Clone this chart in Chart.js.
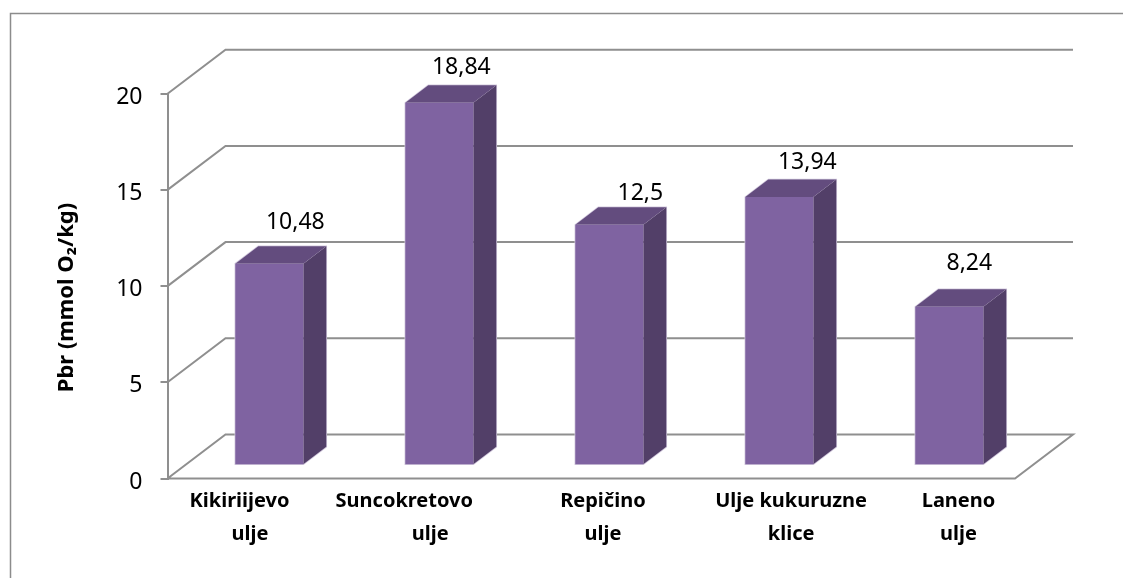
<!DOCTYPE html>
<html>
<head>
<meta charset="utf-8">
<style>
  html, body { margin: 0; padding: 0; background: #fff; }
  #wrap { width: 1123px; height: 578px; position: relative; overflow: hidden; }
</style>
<script src="https://cdn.jsdelivr.net/npm/chart.js@4"></script>
</head>
<body>
<div id="wrap"><canvas id="grafico" width="1123" height="578"></canvas></div>
<script>
const categories = [
  ['Kikiriijevo', 'ulje'],
  ['Suncokretovo', 'ulje'],
  ['Repičino', 'ulje'],
  ['Ulje kukuruzne', 'klice'],
  ['Laneno', 'ulje']
];
const pbr = [10.48, 18.84, 12.5, 13.94, 8.24];
const valueLabels = ['10,48', '18,84', '12,5', '13,94', '8,24'];
const yTicks = [0, 5, 10, 15, 20];
const yTitle = 'Pbr (mmol O₂/kg)';

// hand placed in the original, so each label has its own shift
const valueShift = [[26, -41], [22, -35], [31, -31], [28, -35], [20, -43]];
const categoryShift = [[-12, -2], [-17, 7], [10, 11], [28, 28], [25, 27]];

const GRID = '#8f8f8f';
const FONT = '"Noto Sans"';
const wallDepth = { x: 58, y: -44 };
const barDepth = { x: 23, y: -17.5 };
const barLift = { x: 16.8, y: -13.2 };
const floorInset = 2.5; // bars run slightly wider than the floor

// moves a centered label by padding it with spaces
function nudge(text, px) {
  const pad = ' '.repeat(Math.round(Math.abs(px) / 2.6));
  return px < 0 ? text + pad : pad + text;
}

function poly(ctx, pts, color) {
  ctx.beginPath();
  pts.forEach((p, i) => i ? ctx.lineTo(p[0], p[1]) : ctx.moveTo(p[0], p[1]));
  ctx.closePath();
  ctx.fillStyle = color;
  ctx.fill();
}

const cena3d = {
  id: 'cena3d',
  beforeDraw(chart) {
    const ctx = chart.ctx;
    ctx.save();
    ctx.strokeStyle = '#8c8c8c';
    ctx.lineWidth = 1.5;
    ctx.beginPath();
    ctx.moveTo(10.5, 578);
    ctx.lineTo(10.5, 13.5);
    ctx.lineTo(1123, 13.5);
    ctx.stroke();
    ctx.restore();
  },
  beforeDatasetsDraw(chart) {
    const { ctx, chartArea: area, scales } = chart;
    const front = area.right - floorInset;
    ctx.save();
    ctx.strokeStyle = GRID;
    ctx.lineWidth = 2;
    yTicks.forEach(t => {
      const y = scales.y.getPixelForValue(t);
      ctx.beginPath();
      ctx.moveTo(area.left, y);
      ctx.lineTo(area.left + wallDepth.x, y + wallDepth.y);
      ctx.lineTo(front + wallDepth.x, y + wallDepth.y);
      if (t === 0) {
        ctx.lineTo(front, y);
        ctx.lineTo(area.left, y);
      }
      ctx.stroke();
    });
    ctx.restore();
  },
  afterDatasetsDraw(chart) {
    const ctx = chart.ctx;
    chart.getDatasetMeta(0).data.forEach((bar, i) => {
      const l = bar.x - bar.width / 2 + barLift.x;
      const r = bar.x + bar.width / 2 + barLift.x;
      const t = bar.y + barLift.y;
      const b = bar.base + barLift.y;
      const dx = barDepth.x, dy = barDepth.y;

      // faint light rim around the whole block
      ctx.save();
      ctx.strokeStyle = '#d3cade';
      ctx.lineWidth = 1.5;
      ctx.beginPath();
      ctx.moveTo(l, t);
      ctx.lineTo(l + dx, t + dy);
      ctx.lineTo(r + dx, t + dy);
      ctx.lineTo(r + dx, b + dy);
      ctx.lineTo(r, b);
      ctx.lineTo(l, b);
      ctx.closePath();
      ctx.stroke();
      ctx.restore();

      poly(ctx, [[r, t], [r + dx, t + dy], [r + dx, b + dy], [r, b]], '#523F68');
      poly(ctx, [[l, t], [l + dx, t + dy], [r + dx, t + dy], [r, t]], '#634C7E');
      poly(ctx, [[l, t], [r, t], [r, b], [l, b]], '#7F63A1');

      ctx.save();
      ctx.font = '23px ' + FONT;
      ctx.fillStyle = '#000';
      ctx.textAlign = 'center';
      ctx.textBaseline = 'middle';
      ctx.fillText(valueLabels[i], (l + r) / 2 + valueShift[i][0], t + valueShift[i][1]);
      ctx.restore();
    });
  }
};

new Chart(document.getElementById('grafico'), {
  type: 'bar',
  data: {
    labels: categories.map(c => c.join(' ')),
    datasets: [{
      data: pbr,
      backgroundColor: 'transparent',
      categoryPercentage: 1,
      barPercentage: 0.4
    }]
  },
  options: {
    responsive: false,
    animation: false,
    layout: { padding: { top: 93.7, right: 105.5, left: 0, bottom: 0 } },
    plugins: { legend: { display: false }, title: { display: false }, tooltip: { enabled: false } },
    scales: {
      x: {
        afterFit: s => { s.height = 99.5; },
        border: { display: false },
        grid: { display: false },
        ticks: {
          autoSkip: false,
          maxRotation: 0,
          minRotation: 0,
          padding: -2,
          color: '#000',
          font: { family: FONT, size: 20, weight: 'bold', lineHeight: 1.65 },
          callback: (v, i) => categories[i].map((line, k) => nudge(line, categoryShift[i][k]))
        }
      },
      y: {
        min: 0,
        max: 20,
        afterFit: s => { s.width = 167.5; },
        border: { color: GRID, width: 2 },
        grid: { drawOnChartArea: false, tickLength: 7, color: GRID, lineWidth: 2 },
        ticks: {
          stepSize: 5,
          padding: 18,
          color: '#000',
          // empty first line pushes the number down a little, as in the original
          font: { family: FONT, size: 23, lineHeight: '7px' },
          callback: v => ['', String(v)]
        },
        title: {
          display: true,
          text: yTitle + ' '.repeat(4),
          color: '#000',
          font: { family: FONT, size: 22, weight: 'bold' },
          padding: { top: 54, bottom: 0 }
        }
      }
    }
  },
  plugins: [cena3d]
});
</script>
</body>
</html>
